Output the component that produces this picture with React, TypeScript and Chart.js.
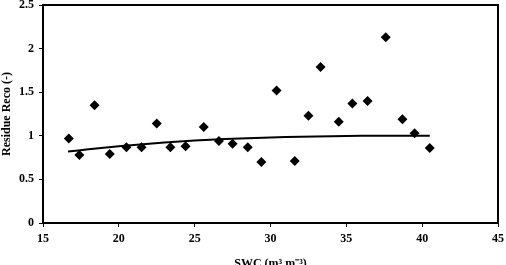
import React, { useEffect, useRef } from "react";
import { Chart, registerables } from "chart.js";

Chart.register(...registerables);

// Soil water content (m3 m-3) and residual Reco for each sample
const swc = [16.7, 17.4, 18.4, 19.4, 20.5, 21.5, 22.5, 23.4, 24.4, 25.6, 26.6, 27.5, 28.5, 29.4, 30.4, 31.6, 32.5, 33.3, 34.5, 35.4, 36.4, 37.6, 38.7, 39.5, 40.5];
const residue = [0.97, 0.78, 1.35, 0.79, 0.87, 0.87, 1.14, 0.87, 0.88, 1.1, 0.94, 0.91, 0.87, 0.7, 1.52, 0.71, 1.23, 1.79, 1.16, 1.37, 1.4, 2.13, 1.19, 1.03, 0.86];

// Fitted trend curve
const trendX = [16.65, 18, 20, 22, 24, 26, 28, 30, 32, 34, 36, 38, 40.5];
const trendY = [0.82, 0.845, 0.88, 0.91, 0.935, 0.955, 0.97, 0.98, 0.99, 0.995, 1.0, 1.0, 1.0];

const xTicks = [15, 20, 25, 30, 35, 40, 45];
const yTicks = [0, 0.5, 1, 1.5, 2, 2.5];

const FONT = "'Liberation Serif', 'Times New Roman', serif";

const frame = {
  id: "frame",
  afterDraw(chart: any) {
    const { ctx, chartArea } = chart;
    ctx.save();
    ctx.strokeStyle = "#000";
    ctx.lineWidth = 2;
    ctx.strokeRect(chartArea.left, chartArea.top, chartArea.right - chartArea.left, chartArea.bottom - chartArea.top);
    ctx.restore();
  },
};

const noEdgePadding = (s: any) => {
  s.paddingTop = 0;
  s.paddingBottom = 0;
  s.paddingLeft = 0;
  s.paddingRight = 0;
};

export default function App() {
  const ref = useRef<HTMLCanvasElement | null>(null);

  useEffect(() => {
    document.body.style.margin = "0";
    const chart = new Chart(ref.current!, {
      type: "scatter",
      data: {
        datasets: [
          {
            type: "line",
            data: trendX.map((x, i) => ({ x, y: trendY[i] })),
            borderColor: "#000",
            borderWidth: 2,
            pointRadius: 0,
            tension: 0.4,
            fill: false,
          } as any,
          {
            data: swc.map((x, i) => ({ x, y: residue[i] })),
            pointStyle: "rectRot",
            pointRadius: 5,
            backgroundColor: "#000",
            borderColor: "#000",
            borderWidth: 0,
          },
        ],
      },
      plugins: [frame],
      options: {
        animation: false,
        responsive: false,
        layout: { padding: { top: 5, right: 8, left: 0, bottom: 0 } },
        plugins: { legend: { display: false }, tooltip: { enabled: false } },
        scales: {
          x: {
            type: "linear",
            min: 15,
            max: 45,
            afterBuildTicks: (s: any) => {
              s.ticks = xTicks.map((v) => ({ value: v }));
            },
            afterFit: (s: any) => {
              s.height = 42;
              noEdgePadding(s);
            },
            grid: { drawOnChartArea: false, drawTicks: true, tickLength: 4, color: "#000", lineWidth: 1 },
            border: { display: true, color: "#000", width: 2 },
            ticks: { color: "#000", padding: 5, maxRotation: 0, font: { family: FONT, size: 12, weight: "bold" } },
            title: {
              display: true,
              text: "SWC (m³ m⁻³)",
              color: "#000",
              padding: { top: 0, bottom: -6 },
              font: { family: FONT, size: 12, weight: "bold" },
            },
          },
          y: {
            min: 0,
            max: 2.5,
            afterBuildTicks: (s: any) => {
              s.ticks = yTicks.map((v) => ({ value: v }));
            },
            afterFit: (s: any) => {
              s.width = 43;
              noEdgePadding(s);
            },
            grid: { drawOnChartArea: false, drawTicks: true, tickLength: 4, color: "#000", lineWidth: 1 },
            border: { display: true, color: "#000", width: 2 },
            ticks: {
              color: "#000",
              padding: 5,
              callback: (v: any) => String(v),
              font: { family: FONT, size: 12, weight: "bold" },
            },
            title: {
              display: true,
              text: "Residue Reco (-)",
              color: "#000",
              padding: { top: 0, bottom: 0 },
              font: { family: FONT, size: 12, weight: "bold" },
            },
          },
        },
      },
    });
    return () => chart.destroy();
  }, []);

  return (
    <div style={{ width: 506, height: 265, overflow: "hidden" }}>
      <canvas ref={ref} width={506} height={265} style={{ display: "block" }} />
    </div>
  );
}
